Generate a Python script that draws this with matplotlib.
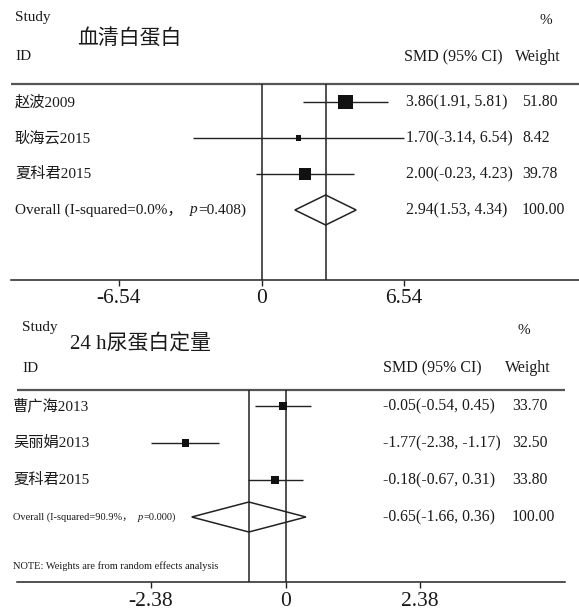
import matplotlib
matplotlib.use('Agg')
import matplotlib.pyplot as plt
import numpy as np

# 两个森林图：血清白蛋白、24 h尿蛋白定量

SERIF = ['Liberation Serif', 'Noto Sans CJK SC']
plt.rcParams['font.family'] = SERIF

# 血清白蛋白
alb_study = ['赵波2009', '耿海云2015', '夏科君2015']
alb_smd = [3.86, 1.70, 2.00]
alb_lo = [1.91, -3.14, -0.23]
alb_hi = [5.81, 6.54, 4.23]
alb_w = [51.80, 8.42, 39.78]
alb_all = [2.94, 1.53, 4.34]
alb_i2 = 0.0
alb_p = 0.408
alb_ticks = [-6.54, 0, 6.54]

# 24 h尿蛋白定量
upro_study = ['曹广海2013', '吴丽娟2013', '夏科君2015']
upro_smd = [-0.05, -1.77, -0.18]
upro_lo = [-0.54, -2.38, -0.67]
upro_hi = [0.45, -1.17, 0.31]
upro_w = [33.70, 32.50, 33.80]
upro_all = [-0.65, -1.66, 0.36]
upro_i2 = 90.9
upro_p = 0.000
upro_ticks = [-2.38, 0, 2.38]

W, H = 579, 610
fig = plt.figure(figsize=(W / 100, H / 100), dpi=100)
LC = '#222222'


def ftext(x, y, s, size, **kw):
    # 按像素位置(左上角为原点)写字
    kw.setdefault('va', 'center')
    kw.setdefault('color', '#1a1a1a')
    return fig.text(x / W, 1 - y / H, s, fontsize=size, family=SERIF, **kw)


def chain(x, y, parts, size):
    # 一段段接着写，p要斜体
    r = fig.canvas.get_renderer()
    for s, st in parts:
        t = ftext(x, y, s, size, style=st)
        x += t.get_window_extent(r).width


def forest(y0, y1, zero_px, unit_px, title, study, smd, lo, hi, w, overall, i2, p, ticks,
           head_y, row_y, row_step, base_y, line_x0, line_x1, lab_x, eff_x, w_x,
           head_x, title_x, box_k, ov_size, col_x, pct_x, study_y, title_y, id_y, pct_y):
    ax = fig.add_axes([0, 1 - y1 / H, 1, (y1 - y0) / H])
    xl = -zero_px / unit_px
    xr = (W - zero_px) / unit_px
    px2x = lambda v: (v - zero_px) / unit_px
    ax.set_xlim(xl, xr)
    ax.set_ylim(y1, y0)
    ax.patch.set_visible(False)
    for s in ['top', 'left', 'right']:
        ax.spines[s].set_visible(False)
    ax.spines['bottom'].set_position(('data', base_y))
    ax.spines['bottom'].set_bounds(px2x(line_x0), px2x(line_x1))
    ax.spines['bottom'].set_color(LC)
    ax.spines['bottom'].set_linewidth(1.1)
    ax.set_yticks([])
    ax.set_xticks(ticks)
    ax.set_xticklabels(['%g' % t for t in ticks], fontsize=15.5, color='#1a1a1a')
    ax.tick_params(axis='x', direction='out', length=4, width=1, color=LC, pad=3)

    rows = row_y + row_step * np.arange(len(study))
    ov_y = row_y + row_step * len(study)

    # 表头横线和两条竖线
    ax.hlines(head_y, px2x(line_x0), px2x(line_x1), color='#555555', lw=1.6)
    ax.vlines([0, overall[0]], head_y, base_y, color=LC, lw=1.1)

    # 各研究的置信区间和方块
    ax.hlines(rows, lo, hi, color=LC, lw=1.0, zorder=3)
    side = box_k * np.sqrt(np.array(w))
    ax.scatter(smd, rows, marker='s', s=side ** 2, color='#111111', zorder=4, linewidths=0)

    # 合并效应量菱形
    est, a, b = overall
    ax.fill([a, est, b, est], [ov_y, ov_y - 15, ov_y, ov_y + 15],
            facecolor='none', edgecolor=LC, lw=1.1, zorder=5)

    # 文字
    ftext(head_x, study_y, 'Study', 11)
    ftext(head_x, id_y, 'ID', 11)
    ftext(title_x, title_y, title, 15)
    ftext(pct_x, pct_y, '%', 11)
    ftext(col_x, id_y, 'SMD (95% CI)', 11.5)
    ftext(w_x - 7, id_y, 'Weight', 11.5)
    for yy, name, m, l, h, ww in zip(rows, study, smd, lo, hi, w):
        ftext(lab_x, yy, name, 11)
        ftext(eff_x, yy, '%.2f(%.2f, %.2f)' % (m, l, h), 11.3)
        ftext(w_x, yy, '%.2f' % ww, 11.3)
    chain(lab_x, ov_y, [('Overall (I-squared=%.1f%%，  ' % i2, 'normal'), ('p', 'italic'),
                        ('=%.3f)' % p, 'normal')], ov_size)
    ftext(eff_x, ov_y, '%.2f(%.2f, %.2f)' % tuple(overall), 11.3)
    ftext(w_x, ov_y, '%.2f' % 100, 11.3)
    return ax


forest(0, 305, 261.5, 21.81, '血清白蛋白', alb_study, alb_smd, alb_lo, alb_hi, alb_w,
       alb_all, alb_i2, alb_p, alb_ticks,
       head_y=84, row_y=102, row_step=36, base_y=279.5, line_x0=11, line_x1=579,
       lab_x=15, eff_x=406, w_x=522, head_x=15, title_x=77, box_k=1.45, ov_size=11,
       col_x=404, pct_x=540, study_y=18, title_y=39, id_y=57, pct_y=20)

forest(305, 610, 285.6, 56.57, '24 h尿蛋白定量', upro_study, upro_smd, upro_lo, upro_hi, upro_w,
       upro_all, upro_i2, upro_p, upro_ticks,
       head_y=390, row_y=406, row_step=37, base_y=582.3, line_x0=17, line_x1=565,
       lab_x=13, eff_x=383, w_x=512, head_x=22, title_x=70, box_k=1.0, ov_size=7.5,
       col_x=383, pct_x=518, study_y=328, title_y=345, id_y=368, pct_y=330)

ftext(13, 566, 'NOTE: Weights are from random effects analysis', 7.5)

fig.savefig('out.png', dpi=100)
